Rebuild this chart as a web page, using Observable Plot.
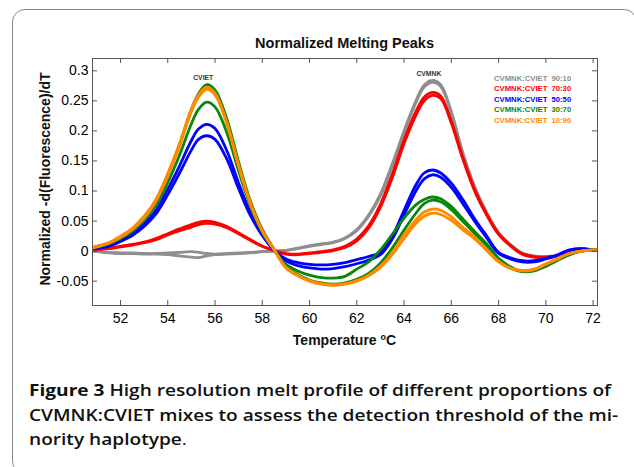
<!DOCTYPE html>
<html>
<head>
<meta charset="utf-8">
<script src="https://cdn.jsdelivr.net/npm/d3@7"></script>
<script src="https://cdn.jsdelivr.net/npm/@observablehq/plot@0.6"></script>
<style>
  html, body { margin: 0; padding: 0; background: #fff; }
  body { width: 634px; height: 467px; overflow: hidden; position: relative; font-family: "Liberation Sans", Arial, sans-serif; }
  #border { position: absolute; left: 12px; top: 9px; width: 623px; height: 463px; border: 1px solid #8a8a8a; border-radius: 13px; }
  #chart { position: absolute; left: 0; top: 0; }
  .lbl { position: absolute; font-weight: bold; color: #111; white-space: nowrap; }
  #title { left: 344.5px; top: 35px; transform: translateX(-50%); font-size: 14.5px; line-height: 16px; }
  #xlabel { left: 344.5px; top: 329px; transform: translateX(-50%); font-size: 14px; line-height: 16px; }
  #xlabel sup { font-size: 9px; vertical-align: 5px; }
  #ylabel { left: -105.5px; top: 171px; width: 300px; text-align: center; transform: rotate(-90deg); font-size: 14px; line-height: 16px; }
  #legend { position: absolute; left: 494px; top: 73.5px; font-size: 7.7px; line-height: 10.5px; font-weight: bold; }
  #legend div { white-space: nowrap; }
  #legend span.r { position: absolute; left: 57.5px; }
  #caption { position: absolute; left: 29px; top: 378px; font-family: "Open Sans", sans-serif; font-size: 16.5px; line-height: 24.5px; color: #111; font-weight: 600; white-space: nowrap; transform-origin: 0 0; }
  #caption span.line { display: block; width: max-content; }
  #caption b { font-weight: 700; }
  #caption .p { font-weight: 400; }
</style>
</head>
<body>
<div id="border"></div>
<div id="chart"></div>
<div class="lbl" id="title">Normalized Melting Peaks</div>
<div class="lbl" id="ylabel">Normalized -d(Fluorescence)/dT</div>
<div class="lbl" id="xlabel">Temperature <sup>o</sup>C</div>
<div id="legend"></div>
<div id="caption"><span class="line" id="cap1"><b>Figure 3</b> High resolution melt profile of different proportions of</span><span class="line">CVMNK:CVIET mixes to assess the detection threshold of the mi-</span><span class="line">nority haplotype<span class="p">.</span></span></div>
<script>
// Temperature grid (°C)
const temps = [50.82, 51, 51.5, 52, 52.5, 53, 53.5, 54, 54.5, 55, 55.3, 55.65, 56, 56.5, 57, 57.5, 58, 58.5,
  59, 59.5, 60, 60.5, 61, 61.5, 62, 62.5, 63, 63.5, 64, 64.5, 64.85, 65.2, 65.55, 66, 66.5, 67, 67.5, 68, 68.5,
  69, 69.5, 70, 70.5, 71, 71.5, 72, 72.18];

// CVMNK:CVIET 90:10 (two replicates)
const mix90a = [0.001, 0.000, -0.002, -0.003, -0.003, -0.004, -0.004, -0.003, -0.002, -0.001, -0.002, -0.004, -0.005, -0.004, -0.003, -0.002, -0.001, 0.000,
  0.001, 0.005, 0.009, 0.012, 0.015, 0.022, 0.036, 0.060, 0.095, 0.145, 0.200, 0.250, 0.276, 0.284, 0.277, 0.232, 0.162, 0.106, 0.064, 0.031, 0.011, -0.003, -0.008, -0.009, -0.007, -0.003, 0.000, 0.002, 0.002];
const mix90b = [0.000, -0.001, -0.003, -0.004, -0.004, -0.005, -0.005, -0.006, -0.008, -0.010, -0.011, -0.008, -0.006, -0.005, -0.004, -0.003, -0.001, 0.000,
  0.001, 0.004, 0.008, 0.011, 0.014, 0.021, 0.034, 0.058, 0.092, 0.142, 0.197, 0.247, 0.273, 0.281, 0.274, 0.230, 0.160, 0.105, 0.063, 0.030, 0.010, -0.004, -0.009, -0.010, -0.008, -0.003, 0.000, 0.002, 0.002];

// CVMNK:CVIET 70:30
const mix70a = [0.002, 0.003, 0.005, 0.008, 0.011, 0.015, 0.021, 0.029, 0.037, 0.044, 0.048, 0.050, 0.048, 0.041, 0.030, 0.019, 0.008, 0.001,
  -0.004, -0.005, -0.003, -0.001, 0.002, 0.008, 0.020, 0.042, 0.078, 0.128, 0.185, 0.232, 0.256, 0.264, 0.258, 0.216, 0.154, 0.101, 0.061, 0.029, 0.010, -0.004, -0.009, -0.010, -0.008, -0.003, 0.000, 0.002, 0.002];
const mix70b = [0.001, 0.002, 0.004, 0.007, 0.010, 0.014, 0.019, 0.027, 0.034, 0.040, 0.044, 0.046, 0.045, 0.039, 0.029, 0.018, 0.008, 0.001,
  -0.005, -0.006, -0.004, -0.002, 0.001, 0.006, 0.017, 0.038, 0.073, 0.122, 0.179, 0.226, 0.250, 0.259, 0.254, 0.213, 0.152, 0.099, 0.060, 0.028, 0.009, -0.005, -0.010, -0.011, -0.008, -0.003, 0.000, 0.002, 0.002];

// CVMNK:CVIET 50:50
const mix50a = [0.004, 0.005, 0.009, 0.018, 0.028, 0.045, 0.068, 0.103, 0.142, 0.184, 0.203, 0.211, 0.204, 0.167, 0.113, 0.064, 0.028, 0.002,
  -0.013, -0.019, -0.022, -0.023, -0.022, -0.019, -0.014, -0.009, -0.002, 0.025, 0.068, 0.110, 0.130, 0.135, 0.130, 0.113, 0.085, 0.053, 0.025, -0.002, -0.011, -0.016, -0.016, -0.012, -0.006, 0.002, 0.004, 0.002, 0.001];
const mix50b = [0.004, 0.005, 0.008, 0.016, 0.026, 0.041, 0.062, 0.094, 0.130, 0.168, 0.186, 0.192, 0.186, 0.153, 0.104, 0.059, 0.026, 0.001,
  -0.016, -0.024, -0.028, -0.030, -0.029, -0.026, -0.021, -0.015, -0.006, 0.020, 0.060, 0.100, 0.120, 0.127, 0.123, 0.106, 0.078, 0.049, 0.022, -0.004, -0.013, -0.018, -0.018, -0.013, -0.007, 0.001, 0.004, 0.002, 0.001];

// CVMNK:CVIET 30:70
const mix30a = [0.006, 0.008, 0.013, 0.023, 0.036, 0.056, 0.084, 0.127, 0.178, 0.236, 0.262, 0.277, 0.268, 0.220, 0.148, 0.083, 0.036, 0.003,
  -0.026, -0.039, -0.048, -0.053, -0.055, -0.053, -0.047, -0.037, -0.020, 0.005, 0.035, 0.063, 0.079, 0.085, 0.082, 0.069, 0.049, 0.029, 0.009, -0.014, -0.028, -0.034, -0.032, -0.025, -0.015, -0.006, 0.000, 0.002, 0.002];
const mix30b = [0.005, 0.007, 0.012, 0.021, 0.033, 0.051, 0.076, 0.114, 0.160, 0.212, 0.236, 0.248, 0.240, 0.197, 0.133, 0.075, 0.032, 0.002,
  -0.022, -0.033, -0.040, -0.044, -0.045, -0.042, -0.030, -0.018, 0.002, 0.028, 0.055, 0.077, 0.086, 0.090, 0.087, 0.074, 0.053, 0.032, 0.012, -0.012, -0.026, -0.034, -0.033, -0.025, -0.015, -0.006, 0.000, 0.002, 0.002];

// CVMNK:CVIET 10:90
const mix10a = [0.006, 0.008, 0.014, 0.025, 0.038, 0.058, 0.086, 0.129, 0.179, 0.236, 0.260, 0.273, 0.263, 0.214, 0.143, 0.080, 0.034, 0.003,
  -0.027, -0.040, -0.049, -0.054, -0.056, -0.054, -0.049, -0.040, -0.025, -0.003, 0.027, 0.052, 0.065, 0.070, 0.068, 0.057, 0.039, 0.023, 0.003, -0.017, -0.028, -0.032, -0.030, -0.021, -0.012, -0.004, 0.000, 0.002, 0.002];
const mix10b = [0.005, 0.007, 0.013, 0.023, 0.036, 0.055, 0.083, 0.125, 0.175, 0.232, 0.256, 0.269, 0.260, 0.212, 0.141, 0.078, 0.033, 0.002,
  -0.028, -0.041, -0.050, -0.055, -0.057, -0.055, -0.050, -0.041, -0.027, -0.006, 0.021, 0.046, 0.058, 0.063, 0.061, 0.051, 0.035, 0.020, 0.001, -0.018, -0.029, -0.033, -0.031, -0.022, -0.013, -0.004, 0.000, 0.002, 0.002];

const mixNames = ["CVMNK:CVIET", "CVMNK:CVIET", "CVMNK:CVIET", "CVMNK:CVIET", "CVMNK:CVIET"];
const mixRatios = ["90:10", "70:30", "50:50", "30:70", "10:90"];
const mixColors = ["#8e8e8e", "#ff0000", "#0000ff", "#0a870a", "#ff8a00"];
const mixReps = [[mix90a, mix90b], [mix70a, mix70b], [mix50a, mix50b], [mix30a, mix30b], [mix10a, mix10b]];

const xTicks = [52, 54, 56, 58, 60, 62, 64, 66, 68, 70, 72];
const yTicks = [-0.05, 0, 0.05, 0.1, 0.15, 0.2, 0.25, 0.3];
const peakLabels = [{label: "CVIET", t: 55.5, v: 0.289}, {label: "CVMNK", t: 65.05, v: 0.295}];

const lineMarks = [];
mixReps.forEach((reps, k) => {
  reps.forEach(rep => {
    const rows = temps.map((t, i) => ({t, v: rep[i]}));
    lineMarks.push(Plot.line(rows, {x: "t", y: "v", stroke: mixColors[k], strokeWidth: 2.8, curve: "catmull-rom", clip: true}));
  });
});

const axisColor = "#555";
const chart = Plot.plot({
  width: 634, height: 360,
  marginLeft: 92, marginRight: 37, marginTop: 58, marginBottom: 55,
  style: {fontFamily: "'Liberation Sans', Arial, sans-serif", fontSize: "14px", color: "#000", background: "transparent", overflow: "visible"},
  x: {domain: [50.815, 72.186]},
  y: {domain: [-0.0905, 0.3205]},
  marks: [
    ...lineMarks,
    Plot.frame({stroke: axisColor}),
    Plot.tickX(xTicks, {x: d => d, insetTop: 242, stroke: axisColor}),
    Plot.tickX(xTicks, {x: d => d, insetBottom: 242, stroke: axisColor}),
    Plot.tickY(yTicks, {y: d => d, insetRight: 500, stroke: axisColor}),
    Plot.tickY(yTicks, {y: d => d, insetLeft: 500, stroke: axisColor}),
    Plot.axisX({ticks: xTicks, tickSize: 0, tickPadding: 8, label: null, fontSize: 14}),
    Plot.axisY({ticks: yTicks, tickSize: 0, tickPadding: 4, label: null, fontSize: 14, tickFormat: d => String(d)}),
    Plot.text(peakLabels, {x: "t", y: "v", text: "label", fontSize: 6.8, fontWeight: "bold", fill: "#333"})
  ]
});
document.getElementById("chart").appendChild(chart);

const legend = document.getElementById("legend");
mixRatios.forEach((r, k) => {
  const row = document.createElement("div");
  row.style.color = mixColors[k];
  row.style.position = "relative";
  row.innerHTML = `<span>${mixNames[k]}</span><span class="r">${r}</span>`;
  legend.appendChild(row);
});

function fitCaption() {
  const cap = document.getElementById("caption");
  cap.style.transform = "none";
  const w = document.getElementById("cap1").getBoundingClientRect().width;
  if (w > 0) cap.style.transform = `scaleX(${582 / w})`;
}
fitCaption();
if (document.fonts && document.fonts.ready) document.fonts.ready.then(fitCaption);
</script>
</body>
</html>
